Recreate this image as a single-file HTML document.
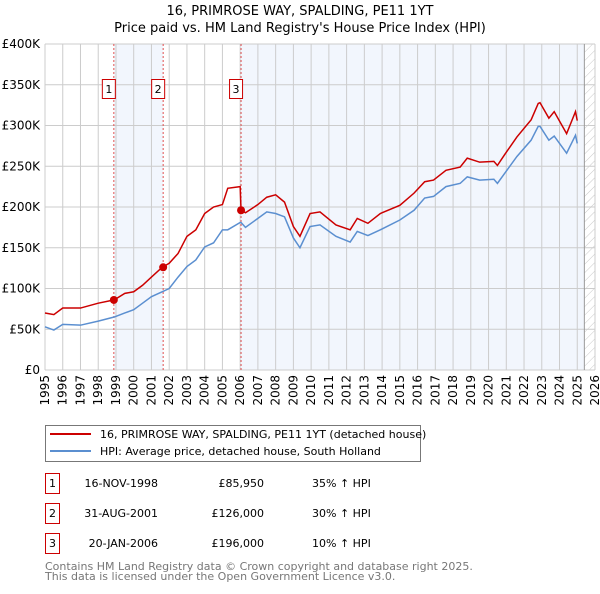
<!DOCTYPE html>
<html><head><meta charset="utf-8">
<style>
body{margin:0;background:#fff;font-family:"DejaVu Sans","Liberation Sans",sans-serif;}
svg text{font-family:"DejaVu Sans","Liberation Sans",sans-serif;}
</style></head>
<body>
<svg id="chart" width="600" height="590" viewBox="0 0 600 590" xmlns="http://www.w3.org/2000/svg">
<defs>
<pattern id="hatch" patternUnits="userSpaceOnUse" width="6" height="6" patternTransform="rotate(45)">
<line x1="0" y1="0" x2="0" y2="6" stroke="#bbb" stroke-width="0.8"/>
</pattern>
</defs>
<text x="300" y="15" text-anchor="middle" font-size="13">16, PRIMROSE WAY, SPALDING, PE11 1YT</text>
<text x="300" y="32" text-anchor="middle" font-size="13">Price paid vs. HM Land Registry's House Price Index (HPI)</text>
<g id="plot"></g>
<g>
<rect x="45.5" y="425.5" width="375" height="36" fill="#fff" stroke="#777"/>
<line x1="50" y1="434" x2="91" y2="434" stroke="#cc0000" stroke-width="2"/>
<text x="100" y="438" font-size="11">16, PRIMROSE WAY, SPALDING, PE11 1YT (detached house)</text>
<line x1="50" y1="451" x2="91" y2="451" stroke="#5b8fd0" stroke-width="2"/>
<text x="100" y="455" font-size="11">HPI: Average price, detached house, South Holland</text>
</g>
<g id="table" font-size="11"></g>
<text x="45" y="570" font-size="11" fill="#777">Contains HM Land Registry data © Crown copyright and database right 2025.</text>
<text x="45" y="580" font-size="11" fill="#777">This data is licensed under the Open Government Licence v3.0.</text>
</svg>
<script>
const years=[1995,1995.5,1996,1997,1998,1998.9,1999.5,2000,2000.5,2001,2001.6,2002,2002.5,2003,2003.5,2004,2004.5,2005,2005.3,2006,2006.05,2006.3,2007,2007.5,2008,2008.5,2009,2009.37,2009.94,2010.5,2011.4,2012.2,2012.6,2013.2,2013.9,2015.0,2015.8,2016.4,2016.9,2017.6,2018.4,2018.8,2019.5,2020.3,2020.5,2020.9,2021.6,2022.4,2022.8,2022.9,2023.4,2023.7,2024.4,2024.9,2025.0];
const hpiValues=[53,49,56,55,60,65,70,74,82,90,96,100,114,127,135,151,156,172,172,181,181,175,186,194,192,188,162,150,176,178,164,157,170,165,172,184,196,211,213,225,229,237,233,234,229,241,262,282,299,299,282,287,266,288,278];
const priceValues=[70,68,76,76,82,86,94,96,104,114,126,131,143,164,172,192,200,203,223,225,196,193,203,212,215,206,176,164,192,194,178,172,186,180,192,202,217,231,233,245,249,260,255,256,251,264,286,307,327,328,309,317,290,317,306];
const saleLabels=["1","2","3"];
const saleYears=[1998.88,2001.66,2006.05];
const salePrices=[85.95,126,196];
const saleDates=["16-NOV-1998","31-AUG-2001","20-JAN-2006"];
const salePriceText=["£85,950","£126,000","£196,000"];
const saleHpiText=["35% ↑ HPI","30% ↑ HPI","10% ↑ HPI"];
const yTicks=[0,50,100,150,200,250,300,350,400];
const yTickLabels=["£0","£50K","£100K","£150K","£200K","£250K","£300K","£350K","£400K"];
const xTicks=[1995,1996,1997,1998,1999,2000,2001,2002,2003,2004,2005,2006,2007,2008,2009,2010,2011,2012,2013,2014,2015,2016,2017,2018,2019,2020,2021,2022,2023,2024,2025,2026];
const dataEnd=2025.4;

const X0=45,X1=595,Y0=370,Y1=44;
const xs=y=>X0+(y-1995)/(2026-1995)*(X1-X0);
const ys=v=>Y0-v/400*(Y0-Y1);
const NS="http://www.w3.org/2000/svg";
const plot=document.getElementById('plot');
function mk(tag,attrs,parent){const e=document.createElementNS(NS,tag);for(const k in attrs)e.setAttribute(k,attrs[k]);(parent||plot).appendChild(e);return e;}

let r=mk('rect',{x:xs(saleYears[0]),y:Y1,width:xs(saleYears[1])-xs(saleYears[0]),height:Y0-Y1,fill:'#f2f6fd'});


r=mk('rect',{x:xs(saleYears[2]),y:Y1,width:xs(dataEnd)-xs(saleYears[2]),height:Y0-Y1,fill:'#f2f6fd'});


r=mk('rect',{x:xs(dataEnd),y:Y1,width:X1-xs(dataEnd),height:Y0-Y1,fill:'url(#hatch)'});



xTicks.forEach((t,i)=>{
  const l=mk('line',{x1:xs(t),x2:xs(t),y1:Y1,y2:Y0,stroke:'#ccc','stroke-width':1});
  
  
  const tx=mk('text',{x:0,y:0,'font-size':12,'text-anchor':'end',transform:`translate(${xs(t)+4},${Y0+5}) rotate(-90)`});
  tx.textContent=t;
  
  
});
yTicks.forEach((t,i)=>{
  const l=mk('line',{x1:X0,x2:X1,y1:ys(t),y2:ys(t),stroke:'#ccc','stroke-width':1});
  
  
  const tx=mk('text',{x:X0-5,y:ys(t)+4,'font-size':12,'text-anchor':'end'});
  tx.textContent=yTickLabels[i];
  
  
});
let el=mk('line',{x1:xs(dataEnd),x2:xs(dataEnd),y1:Y1,y2:Y0,stroke:'#999','stroke-width':1});



saleYears.forEach((y,i)=>{
  const l=mk('line',{x1:xs(y),x2:xs(y),y1:Y1,y2:Y0,stroke:'#e05050','stroke-width':1,'stroke-dasharray':'2,2'});
  
  
});

const hp=mk('polyline',{points:years.map((y,i)=>xs(y)+','+ys(hpiValues[i])).join(' '),fill:'none',stroke:'#5b8fd0','stroke-width':1.5});


const pp=mk('polyline',{points:years.map((y,i)=>xs(y)+','+ys(priceValues[i])).join(' '),fill:'none',stroke:'#cc0000','stroke-width':1.5});



saleYears.forEach((y,i)=>{
  const c=mk('circle',{cx:xs(y),cy:ys(salePrices[i]),r:4,fill:'#cc0000'});
  
  
  const g=mk('g',{});
  
  
  mk('rect',{x:xs(y)-11.5,y:79.5,width:13,height:19,fill:'#fff',stroke:'#cc0000'},g);
  const t=mk('text',{x:xs(y)-5,y:93,'font-size':11,'text-anchor':'middle'},g);
  t.textContent=saleLabels[i];
});

const tb=document.getElementById('table');
saleDates.forEach((d,i)=>{
  const yy=483+i*30;
  const g=mk('g',{},tb);
  
  
  mk('rect',{x:45.5,y:yy-9.5,width:14,height:20,fill:'#fff',stroke:'#cc0000'},g);
  let t=mk('text',{x:52.5,y:yy+4,'text-anchor':'middle'},g);t.textContent=saleLabels[i];
  t=mk('text',{x:158,y:yy+4,'text-anchor':'end'},g);t.textContent=d;
  t=mk('text',{x:264,y:yy+4,'text-anchor':'end'},g);t.textContent=salePriceText[i];
  t=mk('text',{x:312,y:yy+4},g);t.textContent=saleHpiText[i];
});
</script>
</body></html>
